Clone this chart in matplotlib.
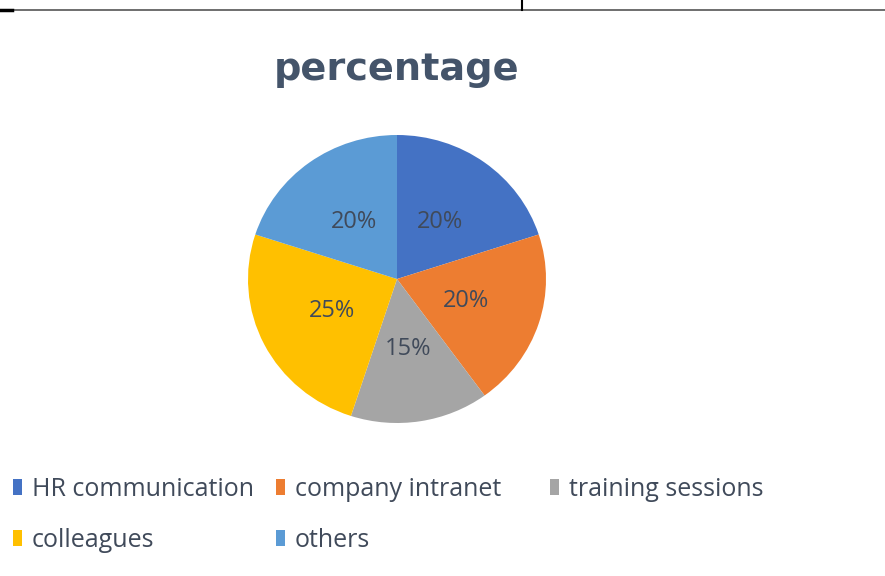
import matplotlib.pyplot as plt
from matplotlib.patches import Rectangle
from matplotlib.lines import Line2D

labels = ["HR communication", "company intranet", "training sessions", "colleagues", "others"]
values = [20, 20, 15, 25, 20]
colors = ["#4472C4", "#ED7D31", "#A5A5A5", "#FFC000", "#5B9BD5"]

W, H = 885, 576
fig = plt.figure(figsize=(W / 100, H / 100), dpi=100)
fig.patch.set_facecolor("white")

# remnants of the table border at the top
fig.add_artist(Line2D([7 / W, 1.0], [1 - 10 / H, 1 - 10 / H], color="#555555", lw=1.2))
fig.add_artist(Line2D([0, 12 / W], [1 - 10 / H, 1 - 10 / H], color="black", lw=2.5))
fig.add_artist(Line2D([522 / W, 522 / W], [1.0, 1 - 10 / H], color="black", lw=1.5))

# pie (the screenshot is slightly squashed vertically)
cx, cy, rx, ry = 397, 279, 149, 144
ax = fig.add_axes([(cx - rx) / W, (H - cy - ry) / H, 2 * rx / W, 2 * ry / H])
wedges, texts, autotexts = ax.pie(
    values,
    colors=colors,
    startangle=90,
    counterclock=False,
    autopct="%d%%",
    pctdistance=0.49,
    wedgeprops=dict(linewidth=0),
    textprops=dict(color="#404A5A", fontsize=17, family="Open Sans"),
)
ax.set_xlim(-1, 1)
ax.set_ylim(-1, 1)
ax.set_aspect("auto")

fig.text(cx / W, 1 - 80 / H, "percentage", ha="center", va="baseline",
         fontsize=27.5, fontweight="bold", color="#44546A", family="DejaVu Sans")

# legend, laid out like the office chart
pos = [(13, 496), (276, 496), (550, 496), (13, 547), (276, 547)]
for (x, y), lab, col in zip(pos, labels, colors):
    fig.add_artist(Rectangle((x / W, 1 - (y - 1) / H), 9 / W, 16 / H,
                             transform=fig.transFigure, facecolor=col, edgecolor="none"))
    fig.text((x + 19) / W, 1 - y / H, lab, ha="left", va="baseline",
             fontsize=18, color="#404A5A", family="Open Sans")

fig.savefig("out.png", dpi=100)
